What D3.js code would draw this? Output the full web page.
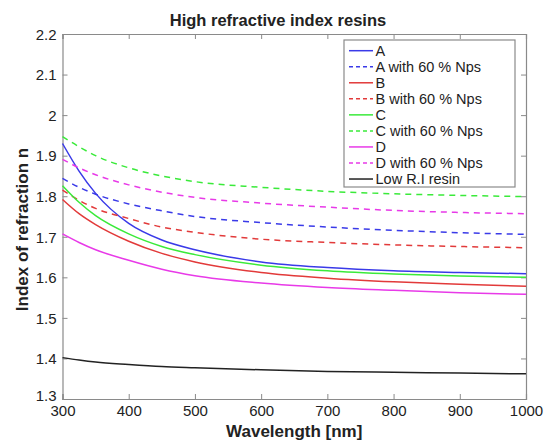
<!DOCTYPE html>
<html><head><meta charset="utf-8">
<script src="https://cdn.jsdelivr.net/npm/d3@7"></script>
<style>body{margin:0;background:#fff}svg{display:block}text{font-family:"Liberation Sans",Arial,Helvetica,sans-serif;fill:#222}</style>
</head><body><div id="chart"></div>
<script>
const wavelengths = [300, 325, 350, 400, 450, 500, 600, 700, 800, 900, 1000];
const seriesNames = ["A", "A with 60 % Nps", "B", "B with 60 % Nps", "C", "C with 60 % Nps", "D", "D with 60 % Nps", "Low R.I resin"];
const A_solid  = [1.930, 1.862, 1.807, 1.733, 1.692, 1.668, 1.638, 1.624, 1.616, 1.612, 1.609];
const A_dashed = [1.844, 1.822, 1.805, 1.781, 1.764, 1.750, 1.735, 1.724, 1.716, 1.710, 1.706];
const B_solid  = [1.792, 1.757, 1.730, 1.689, 1.659, 1.638, 1.612, 1.598, 1.589, 1.583, 1.578];
const B_dashed = [1.815, 1.790, 1.770, 1.745, 1.724, 1.711, 1.694, 1.686, 1.680, 1.676, 1.673];
const C_solid  = [1.826, 1.785, 1.752, 1.707, 1.676, 1.656, 1.630, 1.616, 1.608, 1.603, 1.600];
const C_dashed = [1.947, 1.922, 1.900, 1.870, 1.850, 1.836, 1.822, 1.812, 1.806, 1.802, 1.799];
const D_solid  = [1.707, 1.686, 1.668, 1.642, 1.620, 1.604, 1.586, 1.575, 1.568, 1.562, 1.558];
const D_dashed = [1.891, 1.870, 1.853, 1.828, 1.810, 1.797, 1.783, 1.773, 1.765, 1.760, 1.757];
const LowRI    = [1.402, 1.396, 1.391, 1.385, 1.380, 1.377, 1.372, 1.368, 1.366, 1.364, 1.362];
const seriesValues = [A_solid, A_dashed, B_solid, B_dashed, C_solid, C_dashed, D_solid, D_dashed, LowRI];
const seriesColors = ["#3a3ae8", "#3a3ae8", "#e23a3a", "#e23a3a", "#3aea3a", "#3aea3a", "#e83ae8", "#e83ae8", "#222222"];
const seriesDashed = [false, true, false, true, false, true, false, true, false];
const xTicks = [300, 400, 500, 600, 700, 800, 900, 1000];
const yTicks = [1.3, 1.4, 1.5, 1.6, 1.7, 1.8, 1.9, 2, 2.1, 2.2];

const W = 557, H = 444;
const m = {left: 62.5, right: 526, top: 34, bottom: 399};
const svg = d3.select("#chart").append("svg").attr("width", W).attr("height", H);
const x = d3.scaleLinear().domain([300, 1000]).range([m.left, m.right]);
const y = d3.scaleLinear().domain([1.3, 2.2]).range([m.bottom, m.top]);
const axisColor = "#8a8a8a";

// axes (inward ticks, MATLAB style)
const gx = svg.append("g").attr("transform", `translate(0,${m.bottom})`)
  .call(d3.axisBottom(x).tickValues(xTicks).tickSize(-5).tickPadding(9).tickFormat(d3.format("d")));
const gxt = svg.append("g").attr("transform", `translate(0,${m.top})`)
  .call(d3.axisTop(x).tickValues(xTicks).tickSize(-5).tickFormat(""));
const gy = svg.append("g").attr("transform", `translate(${m.left},0)`)
  .call(d3.axisLeft(y).tickValues(yTicks).tickSize(-5).tickPadding(6).tickFormat(d => d3.format("~g")(d)));
const gyr = svg.append("g").attr("transform", `translate(${m.right},0)`)
  .call(d3.axisRight(y).tickValues(yTicks).tickSize(-5).tickFormat(""));
[gx, gxt, gy, gyr].forEach(g => {
  g.selectAll("path").attr("stroke", axisColor).attr("stroke-width", 1.2);
  g.selectAll("line").attr("stroke", axisColor);
  g.selectAll("text").style("font-size", "15px").attr("fill", "#222");
});
gx.selectAll("text").attr("dy", "0.55em");
gy.selectAll("text").attr("dy", d => d === 1.3 ? "0.1em" : "0.35em");

// lines
const line = d3.line().x((d, i) => x(wavelengths[i])).y(d => y(d)).curve(d3.curveMonotoneX);
seriesValues.forEach((vals, k) => {
  svg.append("path").datum(vals).attr("d", line)
    .attr("fill", "none").attr("stroke", seriesColors[k]).attr("stroke-width", 1.5)
    .attr("stroke-dasharray", seriesDashed[k] ? "6,5" : null);
});

// title and labels
svg.append("text").attr("x", 278).attr("y", 26).attr("text-anchor", "middle")
  .style("font-size", "16.5px").style("font-weight", "bold").text("High refractive index resins");
svg.append("text").attr("x", (m.left + m.right) / 2).attr("y", 437).attr("text-anchor", "middle")
  .style("font-size", "17px").style("font-weight", "bold").text("Wavelength [nm]");
svg.append("text").attr("transform", `translate(28,${(m.top + m.bottom) / 2 + 13}) rotate(-90)`)
  .attr("text-anchor", "middle").style("font-size", "17px").style("font-weight", "bold").text("Index of refraction n");

// legend
const lg = svg.append("g");
lg.append("rect").attr("x", 344).attr("y", 40).attr("width", 171).attr("height", 147)
  .attr("fill", "#fff").attr("stroke", axisColor).attr("stroke-width", 1.2);
seriesNames.forEach((name, k) => {
  const yy = 50.7 + k * 16.04;
  lg.append("line").attr("x1", 349).attr("x2", 373).attr("y1", yy).attr("y2", yy)
    .attr("stroke", seriesColors[k]).attr("stroke-width", 1.5)
    .attr("stroke-dasharray", seriesDashed[k] ? "4,3" : null);
  lg.append("text").attr("x", 375.5).attr("y", yy).attr("dy", "0.36em")
    .style("font-size", "14.5px").text(name);
});
</script></body></html>
